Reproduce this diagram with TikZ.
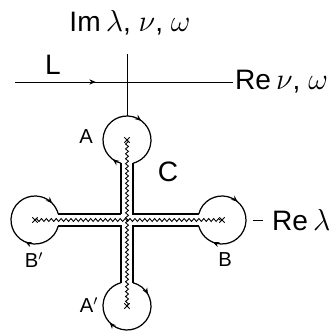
\documentclass[tikz,border=0pt]{standalone}
\usepackage{fontspec}
\setmainfont{Liberation Sans}
\usetikzlibrary{arrows.meta,decorations.pathmorphing,decorations.markings,shapes.misc}
\tikzset{
  contour/.style={line width=0.7pt},
  lobe/.style 2 args={contour,postaction={decorate},decoration={markings,
    mark=at position #1 with {\arrow{Stealth[length=3.6pt,width=3pt]}},
    mark=at position #2 with {\arrow{Stealth[length=3.6pt,width=3pt]}}}},
  midarrow/.style={postaction={decorate},decoration={markings,
    mark=at position #1 with {\arrow{Stealth[length=3.6pt,width=3pt]}}}},
  cut/.style={line width=0.5pt,decorate,decoration={snake,segment length=2.8pt,amplitude=0.85pt}},
  cutend/.style={draw,cross out,line width=0.5pt,minimum size=2.6pt,inner sep=0pt},
  axis/.style={line width=0.45pt},
  biglabel/.style={font=\fontsize{16}{18}\selectfont},
  smalllabel/.style={font=\fontsize{11.5}{13}\selectfont}
}
\begin{document}
\begin{tikzpicture}[x=0.02cm,y=0.02cm]
\useasboundingbox (0,0) rectangle (333,333);
\coordinate (A) at (127,193);
\coordinate (Ap) at (127,27);
\coordinate (B) at (222,113);
\coordinate (Bp) at (35,113);
% axes
\node[biglabel] (im) at (130,310) {Im$\,\lambda$,\ $\nu$,\ $\omega$};
\coordinate (vtop) at (127,279);
\coordinate (vbot) at (127,217);
\draw[axis] (vtop) -- (vbot);
\coordinate (lstart) at (15,251);
\node[biglabel,anchor=west,inner sep=1pt] (renu) at (233,251) {Re$\,\nu$,\ $\omega$};
\draw[axis,midarrow=0.37] (lstart) -- (renu.west);
\node[biglabel] (lL) at (53,268) {L};
\coordinate (dash) at (253,113);
\node[biglabel,anchor=west,inner xsep=5pt] (relam) at (263,113) {Re$\,\lambda$};
\draw[axis] (dash) -- (relam.west);
% contour C
\draw[contour] (121,119) -- (121,169.76);
\draw[lobe={0.066}{0.61}] (121,169.76) arc[start angle=255.52,end angle=-75.52,radius=24];
\draw[contour] (133,169.76) -- (133,119) -- (198.76,119);
\draw[lobe={0.35}{0.84}] (198.76,119) arc[start angle=165.52,end angle=-165.52,radius=24];
\draw[contour] (198.76,107) -- (133,107) -- (133,50.24);
\draw[lobe={0.14}{0.64}] (133,50.24) arc[start angle=75.52,end angle=-255.52,radius=24];
\draw[contour] (121,50.24) -- (121,107) -- (58.24,107);
\draw[lobe={0.30}{0.91}] (58.24,107) arc[start angle=-14.48,end angle=-345.52,radius=24];
\draw[contour] (58.24,119) -- (121,119);
% cuts
\draw[cut] (A) -- (Ap);
\draw[cut] (Bp) -- (B);
\foreach \c in {A,Ap,B,Bp}
  \node[cutend] (x\c) at (\c) {};
% labels
\node[biglabel] (lC) at (168,161) {C};
\node[smalllabel] (lA) at (86,196) {A};
\node[smalllabel] (lAp) at (89,28) {A$'$};
\node[smalllabel] (lB) at (225,73) {B};
\node[smalllabel] (lBp) at (34,73) {B$'$};
\end{tikzpicture}
\end{document}
